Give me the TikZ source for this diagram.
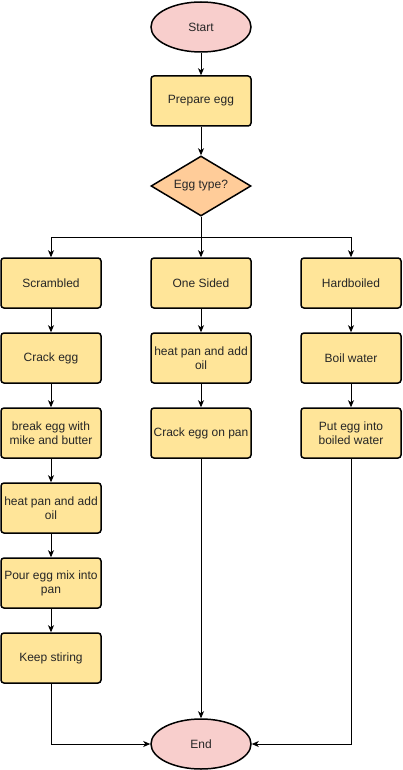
\documentclass[tikz,border=0pt]{standalone}
\usepackage{fontspec}
\setmainfont{Liberation Sans}
\usetikzlibrary{shapes.geometric,arrows.meta}
\definecolor{boxfill}{HTML}{FFE599}
\definecolor{diafill}{HTML}{FFCC99}
\definecolor{ovalfill}{HTML}{F8CECC}
\begin{document}
\begin{tikzpicture}[x=1pt,y=-1pt,
  every node/.style={font=\fontsize{12}{14}\selectfont, text=black!85},
  stepbox/.style={draw=black, line width=1.5pt, fill=boxfill, rounded corners=3pt,
    minimum width=100pt, minimum height=50pt, align=center, inner sep=1pt},
  oval/.style={draw=black, line width=1.5pt, fill=ovalfill, ellipse,
    minimum width=100pt, minimum height=50pt, inner sep=0pt},
  decide/.style={draw=black, line width=1.5pt, fill=diafill, diamond, aspect=1.6667,
    minimum width=100pt, minimum height=60pt, inner sep=0pt},
  conn/.style={draw=black, line width=0.9pt, -{Stealth[length=7pt,width=6pt,inset=2pt]}}
]
\useasboundingbox (0,0) rectangle (403,770);
\node[oval] (start) at (201,27) {Start};
\node[stepbox] (prep) at (201,101) {Prepare egg};
\node[decide] (type) at (201,186) {Egg type?};

\node[stepbox] (scr) at (51,283) {Scrambled};
\node[stepbox] (one) at (201,283) {One Sided};
\node[stepbox] (hard) at (351,283) {Hardboiled};

\node[stepbox] (s1) at (51,358) {Crack egg};
\node[stepbox] (s2) at (51,433) {break egg with\\mike and butter};
\node[stepbox] (s3) at (51,508) {heat pan and add\\oil};
\node[stepbox] (s4) at (51,583) {Pour egg mix into\\pan};
\node[stepbox] (s5) at (51,658) {Keep stiring};

\node[stepbox] (o1) at (201,358) {heat pan and add\\oil};
\node[stepbox] (o2) at (201,433) {Crack egg on pan};

\node[stepbox] (h1) at (351,358) {Boil water};
\node[stepbox] (h2) at (351,433) {Put egg into\\boiled water};

\node[oval] (end) at (201,744) {End};

\coordinate (split) at (201,237);

\draw[conn] (start) -- (prep);
\draw[conn] (prep) -- (type);
\draw[conn] (type.south) -- (split) -| (scr.north);
\draw[conn] (split) -- (one.north);
\draw[conn] (split) -| (hard.north);
\draw[conn] (scr) -- (s1);
\draw[conn] (s1) -- (s2);
\draw[conn] (s2) -- (s3);
\draw[conn] (s3) -- (s4);
\draw[conn] (s4) -- (s5);
\draw[conn] (one) -- (o1);
\draw[conn] (o1) -- (o2);
\draw[conn] (hard) -- (h1);
\draw[conn] (h1) -- (h2);
\draw[conn] (o2) -- (end);
\draw[conn] (s5.south) |- (end.west);
\draw[conn] (h2.south) |- (end.east);
\end{tikzpicture}
\end{document}
